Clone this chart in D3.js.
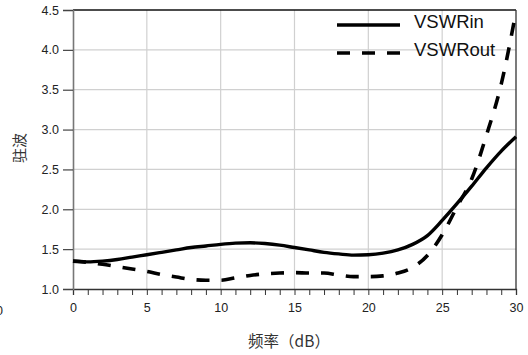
<!DOCTYPE html>
<html>
<head>
<meta charset="utf-8">
<script src="https://cdn.jsdelivr.net/npm/d3@7"></script>
<style>
  body { margin: 0; background: #fff; }
  svg text { font-family: "Liberation Sans", Arial, sans-serif; }
  .cjk { font-family: "Noto Sans CJK SC", sans-serif; }
</style>
</head>
<body>
<div id="chart"></div>
<script>
var freqs = [0,1,2,3,4,5,6,7,8,9,10,11,12,13,14,15,16,17,18,19,20,21,22,23,24,25,26,27,28,29,30];
var vswrIn = [1.35,1.34,1.35,1.37,1.40,1.43,1.46,1.49,1.52,1.54,1.56,1.575,1.58,1.57,1.55,1.52,1.49,1.46,1.44,1.425,1.43,1.45,1.49,1.56,1.67,1.86,2.07,2.29,2.52,2.73,2.91];
var vswrOut = [1.35,1.335,1.31,1.28,1.25,1.22,1.18,1.15,1.12,1.11,1.11,1.14,1.17,1.19,1.20,1.205,1.20,1.20,1.175,1.155,1.155,1.165,1.20,1.27,1.42,1.68,2.03,2.38,2.93,3.57,4.48];
var xTicks = [0,5,10,15,20,25,30];
var yTicks = [1.0,1.5,2.0,2.5,3.0,3.5,4.0,4.5];
var seriesNames = ["VSWRin","VSWRout"];

var W = 528, H = 355;
var margin = {top: 10, right: 12, bottom: 66, left: 73};
var width = W - margin.left - margin.right,
    height = H - margin.top - margin.bottom;

var svg = d3.select("#chart").append("svg")
    .attr("width", W).attr("height", H);
var g = svg.append("g")
    .attr("transform", "translate(" + margin.left + "," + margin.top + ")");

var x = d3.scaleLinear().domain([0, 30]).range([0, width]);
var y = d3.scaleLinear().domain([1, 4.5]).range([height, 0]);

// grid
g.append("g").selectAll("line").data(xTicks.slice(1, -1))
  .enter().append("line")
  .attr("x1", function(d){ return x(d); }).attr("x2", function(d){ return x(d); })
  .attr("y1", 0).attr("y2", height)
  .attr("stroke", "#d0d0d0").attr("stroke-width", 1.2);
g.append("g").selectAll("line").data(yTicks.slice(1, -1))
  .enter().append("line")
  .attr("x1", 0).attr("x2", width)
  .attr("y1", function(d){ return y(d); }).attr("y2", function(d){ return y(d); })
  .attr("stroke", "#d0d0d0").attr("stroke-width", 1.2);

// frame: top and right
g.append("line").attr("x1", 0).attr("x2", width).attr("y1", 0).attr("y2", 0)
  .attr("stroke", "#111").attr("stroke-width", 1.3);
g.append("line").attr("x1", width).attr("x2", width).attr("y1", 0).attr("y2", height)
  .attr("stroke", "#333").attr("stroke-width", 1.3);

// axes
var xAxis = g.append("g")
  .attr("transform", "translate(0," + height + ")")
  .call(d3.axisBottom(x).tickValues(d3.range(0, 31, 1)).tickSize(6).tickPadding(8)
        .tickFormat(function(d){ return d % 5 === 0 ? d : ""; }));
xAxis.select(".domain").attr("stroke", "#333").attr("stroke-width", 1.3);
xAxis.selectAll(".tick line").attr("stroke", "#333");
xAxis.selectAll("text").attr("font-size", 12.5).attr("fill", "#222");

var yAxis = g.append("g")
  .call(d3.axisLeft(y).tickValues(yTicks).tickSize(10).tickPadding(4)
        .tickFormat(d3.format(".1f")));
yAxis.select(".domain").attr("stroke", "#777").attr("stroke-width", 1.6);
yAxis.selectAll(".tick line").attr("stroke", "#444").attr("stroke-width", 1.2);
yAxis.selectAll("text").attr("font-size", 12.5).attr("fill", "#222");

// curves
var line = d3.line()
  .x(function(d, i){ return x(freqs[i]); })
  .y(function(d){ return y(d); })
  .curve(d3.curveMonotoneX);

g.append("path").datum(vswrOut)
  .attr("fill", "none").attr("stroke", "#000").attr("stroke-width", 3.6)
  .attr("stroke-dasharray", "13,12")
  .attr("d", line);
g.append("path").datum(vswrIn)
  .attr("fill", "none").attr("stroke", "#000").attr("stroke-width", 3.4)
  .attr("d", line);

// legend
var legend = svg.append("g");
seriesNames.forEach(function(name, i){
  var ly = 25 + i * 28;
  legend.append("line")
    .attr("x1", 337).attr("x2", 400).attr("y1", ly).attr("y2", ly)
    .attr("stroke", "#000").attr("stroke-width", 3.4)
    .attr("stroke-dasharray", i === 1 ? "13,12" : null);
  legend.append("text")
    .attr("x", 414).attr("y", ly + 3)
    .attr("font-size", 18.5).attr("fill", "#111")
    .text(name);
});

// axis titles
svg.append("text").attr("class", "cjk")
  .attr("transform", "translate(25,148) rotate(-90)")
  .attr("text-anchor", "middle")
  .attr("font-size", 15).attr("fill", "#333")
  .text("驻波");
svg.append("text").attr("class", "cjk")
  .attr("x", 289).attr("y", 347)
  .attr("text-anchor", "middle")
  .attr("font-size", 15.5).attr("fill", "#333")
  .text("频率（dB）");

// leftover label clipped at the far left edge, as in the source image
svg.append("text")
  .attr("x", 3).attr("y", 315)
  .attr("text-anchor", "end")
  .attr("font-size", 12.5).attr("fill", "#222")
  .text("0");
</script>
</body>
</html>
